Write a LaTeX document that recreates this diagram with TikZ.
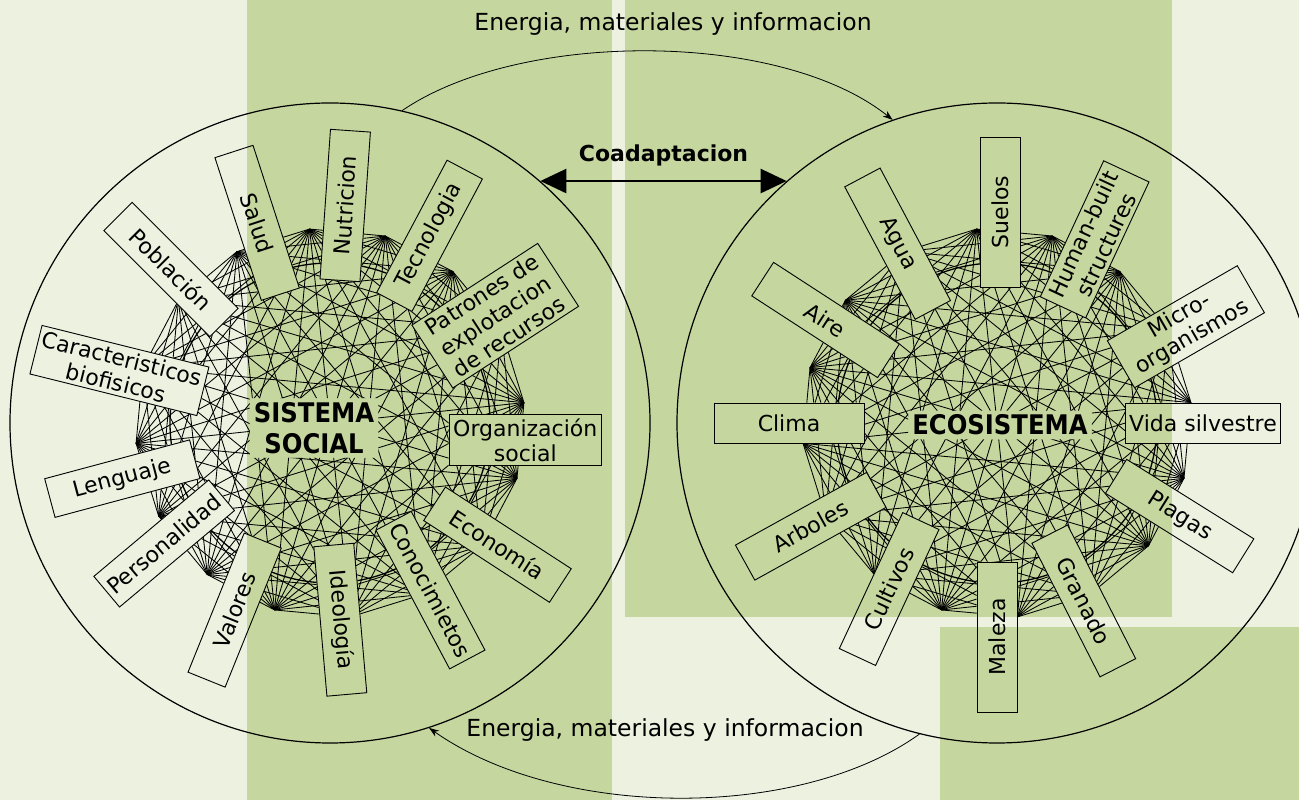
\documentclass[tikz,border=0pt]{standalone}
\usepackage{fontspec}
\setmainfont{DejaVu Sans}
\newfontfamily\condfont{DejaVu Sans Condensed}
\usetikzlibrary{arrows.meta}
\definecolor{paper}{RGB}{236,241,224}
\definecolor{leaf}{RGB}{197,214,158}

\begin{document}
\begin{tikzpicture}[x=1pt, y=1pt, font=\fontsize{22}{25}\selectfont, >={Stealth[length=10pt, width=7pt]}]
  \tikzstyle{factor} = [draw, line width=0.9, minimum width=150, minimum height=40, inner sep=4, align=center]
  \tikzstyle{core}   = [font=\fontsize{27}{31}\selectfont\condfont\bfseries, align=center, inner sep=4]
  \tikzstyle{system} = [circle, draw, line width=1.2, minimum size=640, inner sep=0]
  \tikzstyle{web}    = [line width=0.85]
  \tikzstyle{flow}   = [->, line width=0.8]

  % fondo
  \useasboundingbox (0,0) rectangle (1299,800);
  \fill[paper] (0,0) rectangle (1299,800);
  \fill[leaf] (247,0) rectangle (612,800);
  \fill[leaf] (625,183) rectangle (1172,800);
  \fill[leaf] (940,0) rectangle (1299,173);

  \node[system] (social) at (330,377) {};
  \node[system] (eco)    at (997,377) {};

  % sistema social
  \begin{scope}[shift={(social.center)}]
    \node[core] (ss) at (-16,-5) {SISTEMA\\SOCIAL};
    \node[factor, rotate=-72] (salud) at (110:213) {Salud};
    \node[factor, rotate=86]  (nutr)  at (86:218)  {Nutricion};
    \node[factor, rotate=62]  (tecno) at (62:212)  {Tecnologia};
    \node[factor, rotate=33]  (patr)  at (33:197)  {Patrones de\\explotacion\\de recursos};
    \node[factor]             (org)   at (-5:196)  {Organización\\social};
    \node[factor, rotate=-33] (econ)  at (-36:207) {Economía};
    \node[factor, rotate=-62] (conoc) at (-59:195) {Conocimietos};
    \node[factor, rotate=-85] (ideo)  at (-87:197) {Ideología};
    \node[factor, rotate=68]  (valor) at (243:210) {Valores};
    \node[factor, rotate=40]  (perso) at (216:205) {Personalidad};
    \node[factor, rotate=15]  (leng)  at (195:215) {Lenguaje};
    \node[factor, rotate=-14] (carac) at (166:217) {Caracteristicos\\biofisicos};
    \node[factor, rotate=-45] (pobla) at (136:221) {Población};
  \end{scope}

  % ecosistema
  \begin{scope}[shift={(eco.center)}]
    \node[core] (es) at (3,-2) {ECOSISTEMA};
    \node[factor, rotate=90]  (suelo) at (89:211)  {Suelos};
    \node[factor, rotate=65]  (human) at (62:208)  {Human-built\\structures};
    \node[factor, rotate=30]  (micro) at (27:212)  {Micro-\\organismos};
    \node[factor]             (vida)  at (0:206)   {Vida silvestre};
    \node[factor, rotate=-32] (plaga) at (-27:205) {Plagas};
    \node[factor, rotate=-63] (grana) at (-64:198) {Granado};
    \node[factor, rotate=90]  (male)  at (-90:214) {Maleza};
    \node[factor, rotate=65]  (culti) at (237:198) {Cultivos};
    \node[factor, rotate=29]  (arbol) at (209:213) {Arboles};
    \node[factor]             (clima) at (180:208) {Clima};
    \node[factor, rotate=-33] (aire)  at (149:200) {Aire};
    \node[factor, rotate=-62] (agua)  at (119:205) {Agua};
  \end{scope}

  % red de relaciones
  \begin{scope}
    \clip (0,0) -- (0,800) -- (1299,800) -- (1299,0) -- cycle
      \foreach \n in {ss,salud,nutr,tecno,patr,org,econ,conoc,ideo,valor,perso,leng,carac,pobla,
                      es,suelo,human,micro,vida,plaga,grana,male,culti,arbol,clima,aire,agua}
        {(\n.north west) -- (\n.south west) -- (\n.south east) -- (\n.north east) -- cycle};
    \foreach \c in {social,eco} {
      \begin{scope}[shift={(\c.center)}]
        \draw[web, line width=1.3] (0,0) circle (160);
        \foreach \i in {1,...,15} {
          \pgfmathtruncatemacro\lo{\i-1}
          \foreach \j in {0,...,\lo}
            \draw[web] (\i*360/16+6:195) -- (\j*360/16+6:195);
        }
      \end{scope}
    }
  \end{scope}

  \node (flowtop) at (673,776) {\fontsize{23.5}{27}\selectfont Energia, materiales y informacion};
  \node (flowbot) at (665,70)  {\fontsize{23.5}{27}\selectfont Energia, materiales y informacion};
  \draw[flow] (social.77) .. controls (520,770) and (780,770) .. (eco.109);
  \draw[flow] (eco.256) .. controls (800,-20) and (560,-20) .. (social.288);

  \draw[line width=2.5, {Triangle[length=26pt, width=24pt]}-{Triangle[length=26pt, width=24pt]}]
    (social.49) -- (eco.131) node[midway, above=10, font=\fontsize{22}{25}\selectfont\bfseries] (coad) {Coadaptacion};
\end{tikzpicture}
\end{document}
